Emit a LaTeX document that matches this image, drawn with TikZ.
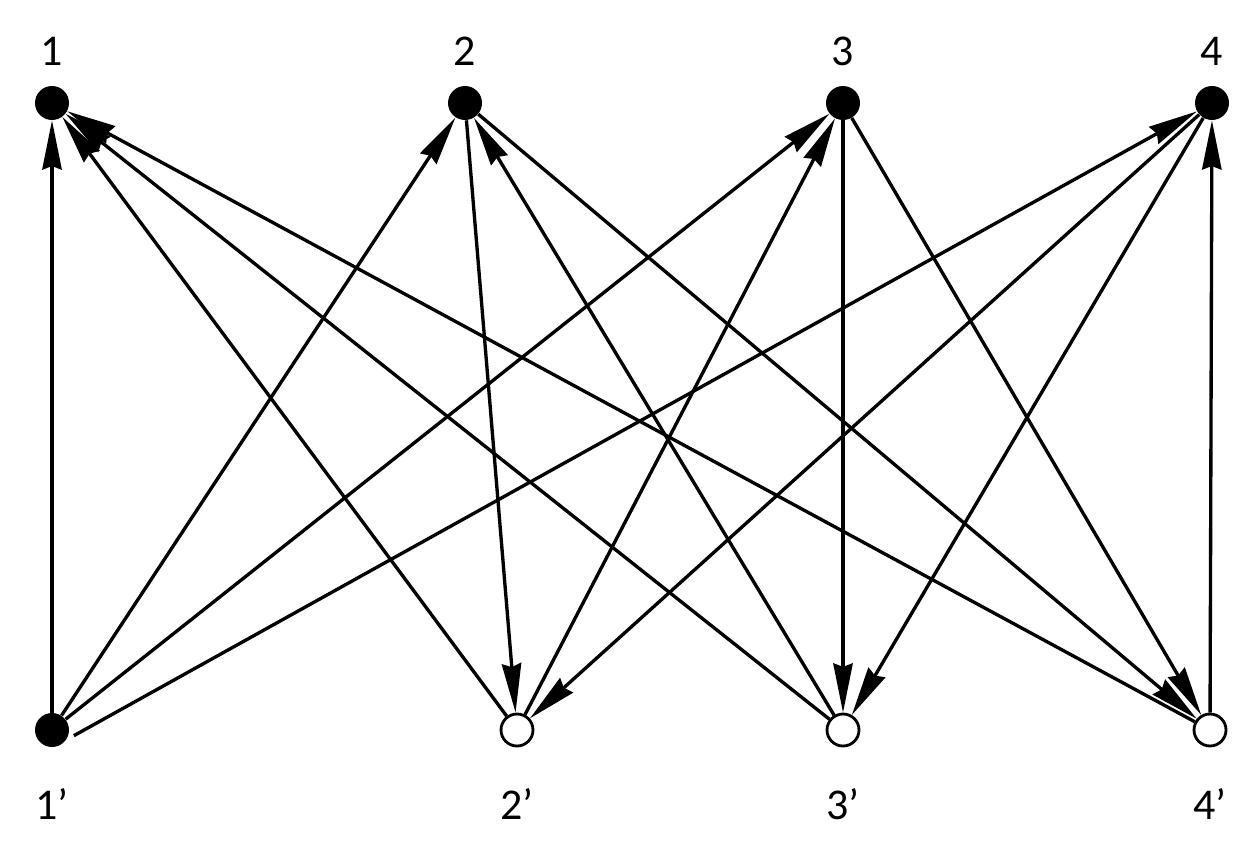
\documentclass[tikz,border=0pt]{standalone}
\usepackage{fontspec}
\setmainfont{Carlito}
\usetikzlibrary{arrows.meta}
\tikzstyle{vertex}=[circle,fill=black,minimum size=0.68cm,inner sep=0pt]
\tikzstyle{hollow}=[circle,draw=black,line width=1.6pt,fill=white,minimum size=0.64cm,inner sep=0pt]
\tikzstyle{edge}=[draw,line width=1.9pt,-{Stealth[length=28pt,width=11pt,inset=2pt]}]
\tikzstyle{tag}=[font=\fontsize{25}{30}\selectfont,inner sep=0pt]

\begin{document}
\begin{tikzpicture}[x=0.02cm,y=-0.02cm]
				\useasboundingbox (0,0) rectangle (1256,861);
				% First we draw the vertices
				\foreach \pos/\name/\txt in {{(52,103)/t1/1}, {(465,103)/t2/2}, {(843,103)/t3/3}, {(1212,103)/t4/4}}
				\node[vertex,label={[tag,label distance=0.4cm]above:\txt}] (\name) at \pos {};

				\foreach \pos/\name/\txt/\sty in {{(52,730)/b1/1/vertex}, {(517,730)/b2/2/hollow},
										{(843,730)/b3/3/hollow}, {(1210,730)/b4/4/hollow}}
				\node[\sty,label={[tag,label distance=0.82cm]below:\txt’}] (\name) at \pos {};

				% Connect vertices with edges
				\foreach \source/ \dest in {b1/t1, b1/t2, b1/t3, b2/t1, b2/t3, b3/t1, b3/t2, b4/t1, b4/t4,
										t2/b2, t2/b4, t3/b3, t3/b4, t4/b2, t4/b3}
				\path[edge] (\source) -- (\dest);

				\path[edge,shorten <=5pt] (b1.-35) -- (t4);

			\end{tikzpicture}
\end{document}
